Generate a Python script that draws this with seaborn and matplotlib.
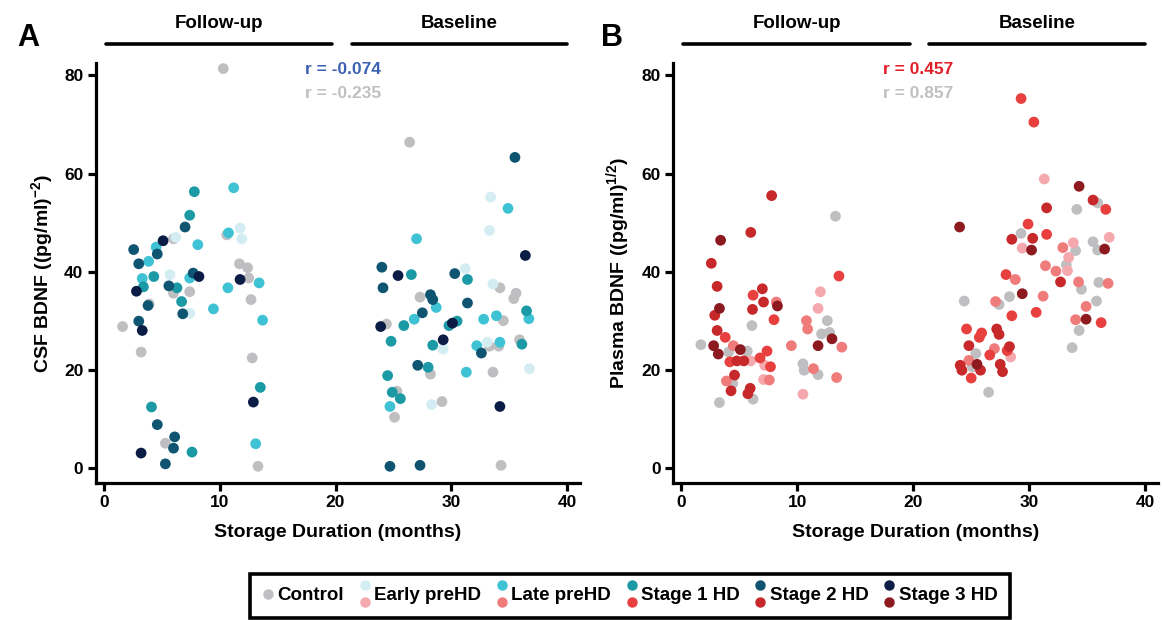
import matplotlib
matplotlib.use('Agg')
import pandas as pd
import matplotlib.pyplot as plt
import seaborn as sns
from matplotlib.legend_handler import HandlerBase
from matplotlib.lines import Line2D
from matplotlib.transforms import blended_transform_factory

groups = ['Control', 'Early preHD', 'Late preHD', 'Stage 1 HD', 'Stage 2 HD', 'Stage 3 HD']
blue_cols = ['#bfbfc1', '#d3edf3', '#3fc2d4', '#1b9aa5', '#0f5470', '#0b1c45']
red_cols = ['#bfbfc1', '#f5a8ad', '#ef7b7b', '#e8403f', '#c7282a', '#8c1a1f']

# ---- panel A: CSF BDNF (follow-up + baseline points) ----
csf_control_x = [10.3, 10.6, 6.0, 11.7, 12.4, 12.5, 6.0, 7.4, 12.7, 3.9, 1.6, 3.2, 12.8, 5.3, 13.3,
                 26.4, 34.2, 35.6, 35.4, 27.3, 34.5, 24.4, 34.1, 35.9, 28.2, 33.6, 25.3, 25.1, 29.2, 34.3, 33.3]
csf_control_y = [81.4, 47.5, 46.7, 41.6, 40.8, 38.7, 35.6, 35.9, 34.3, 33.4, 28.8, 23.6, 22.4, 5.0, 0.3,
                 66.4, 36.7, 35.6, 34.5, 34.8, 30.0, 29.3, 24.8, 26.1, 19.1, 19.5, 15.6, 10.3, 13.5, 0.5, 24.8]
csf_early_x = [11.75, 11.9, 6.2, 5.7, 7.4,
               33.4, 33.3, 31.2, 33.6, 29.3, 33.1, 36.75, 28.3]
csf_early_y = [48.9, 46.7, 47.0, 39.4, 31.5,
               55.2, 48.4, 40.6, 37.5, 24.2, 25.6, 20.2, 12.9]
csf_late_x = [11.2, 10.75, 8.1, 4.5, 3.85, 13.4, 7.4, 3.3, 10.7, 9.45, 13.7, 13.1,
              34.9, 27.0, 28.7, 26.8, 36.7, 32.8, 33.9, 32.2, 34.2, 31.3, 24.7]
csf_late_y = [57.1, 47.9, 45.5, 45.0, 42.1, 37.7, 38.7, 38.6, 36.7, 32.4, 30.1, 4.9,
              52.9, 46.7, 32.7, 30.3, 30.4, 30.3, 31.0, 24.9, 25.6, 19.5, 12.5]
csf_s1_x = [7.8, 7.4, 4.3, 3.4, 6.3, 6.7, 13.5, 4.1, 7.6,
            26.55, 31.4, 36.5, 25.9, 30.5, 29.8, 24.8, 28.4, 36.1, 28.0, 24.5, 24.9, 25.6]
csf_s1_y = [56.3, 51.5, 39.0, 36.9, 36.7, 33.9, 16.4, 12.4, 3.2,
            39.4, 38.4, 32.0, 29.0, 29.9, 29.0, 25.8, 25.0, 25.2, 20.5, 18.8, 15.4, 14.1]
csf_s2_x = [7.0, 2.56, 4.6, 3.0, 7.7, 5.6, 3.8, 6.8, 3.0, 4.6, 6.1, 6.0, 5.3,
            35.5, 24.0, 30.3, 24.1, 28.2, 28.4, 31.4, 27.5, 32.6, 27.1, 24.7, 27.3]
csf_s2_y = [49.1, 44.5, 43.6, 41.6, 39.7, 37.1, 33.1, 31.4, 29.9, 8.8, 6.3, 4.0, 0.8,
            63.3, 40.9, 39.6, 36.7, 35.3, 34.3, 33.6, 31.6, 23.4, 20.9, 0.3, 0.5]
csf_s3_x = [5.1, 11.75, 8.2, 2.8, 3.3, 12.9, 3.2,
            36.4, 25.4, 23.9, 30.1, 29.3, 34.2]
csf_s3_y = [46.3, 38.4, 39.0, 36.0, 28.0, 13.4, 3.0,
            43.3, 39.2, 28.8, 29.5, 26.1, 12.5]

# ---- panel B: plasma BDNF ----
pl_control_x = [13.3, 6.1, 12.6, 12.1, 12.8, 1.7, 4.1, 5.7, 10.5, 10.6, 11.8, 4.45, 3.3, 6.2,
                35.9, 34.1, 29.3, 34.0, 35.5, 35.9, 33.2, 34.5, 36.0, 24.4, 27.4, 28.3, 35.8, 34.3,
                33.7, 25.4, 25.1, 26.5]
pl_control_y = [51.3, 29.0, 30.0, 27.3, 27.6, 25.1, 23.6, 23.8, 21.2, 19.9, 19.0, 17.2, 13.3, 14.0,
                54.0, 52.7, 47.8, 44.3, 46.1, 44.4, 41.4, 36.4, 37.8, 34.0, 33.3, 34.9, 34.0, 28.0,
                24.5, 23.3, 20.6, 15.4]
pl_early_x = [12.0, 11.8, 6.0, 7.2, 7.1, 10.5,
              31.3, 29.4, 33.8, 36.9, 33.4, 33.3, 28.4]
pl_early_y = [35.9, 32.5, 21.8, 20.9, 18.0, 15.0,
              58.9, 44.8, 45.9, 47.0, 42.9, 40.2, 22.6]
pl_late_x = [8.2, 10.8, 10.9, 4.5, 9.5, 13.85, 11.4, 3.9, 7.6, 13.4,
             32.9, 31.4, 32.3, 28.8, 34.25, 36.8, 27.1, 31.2, 34.9, 34.0, 27.0, 24.8]
pl_late_y = [33.8, 30.0, 28.3, 24.9, 24.9, 24.6, 20.2, 17.7, 17.9, 18.4,
             44.9, 41.2, 40.1, 38.4, 37.9, 37.6, 33.9, 35.0, 32.9, 30.2, 24.3, 21.9]
pl_s1_x = [13.6, 6.2, 8.0, 3.8, 7.4, 6.8, 4.2, 7.7,
           29.3, 30.4, 36.6, 29.9, 31.5, 28.0, 28.5, 30.6, 36.2, 24.6, 25.9, 25.7, 28.1, 26.6, 25.0]
pl_s1_y = [39.1, 35.2, 30.2, 26.6, 23.8, 22.4, 21.6, 20.6,
           75.3, 70.5, 52.7, 49.7, 47.6, 39.4, 31.0, 31.7, 29.6, 28.3, 27.5, 26.6, 23.9, 23.0, 18.3]
pl_s2_x = [7.8, 6.0, 2.6, 3.1, 7.0, 7.1, 6.15, 2.9, 3.1, 4.8, 5.4, 4.6, 4.3, 5.95, 5.75,
           35.5, 31.5, 28.5, 30.3, 32.7, 27.2, 27.4, 24.8, 28.3, 24.05, 24.2, 25.8, 27.5, 27.7]
pl_s2_y = [55.5, 48.0, 41.7, 37.0, 36.5, 33.8, 32.3, 31.1, 28.0, 21.8, 21.8, 18.9, 15.7, 16.2, 15.1,
           54.6, 53.0, 46.6, 46.8, 37.9, 28.3, 27.2, 24.9, 24.7, 20.9, 19.9, 19.9, 21.1, 19.6]
pl_s3_x = [3.4, 8.3, 3.3, 2.8, 3.2, 5.1, 11.8, 13.0,
           34.3, 24.0, 30.2, 36.5, 29.4, 34.9, 25.5]
pl_s3_y = [46.4, 33.0, 32.5, 24.9, 23.2, 24.1, 24.9, 26.3,
           57.4, 49.1, 44.4, 44.6, 35.5, 30.3, 21.1]


def build(xs, ys):
    parts = []
    for g, x, y in zip(groups, xs, ys):
        parts.append(pd.DataFrame({'months': x, 'bdnf': y, 'group': g}))
    return pd.concat(parts, ignore_index=True)


csf = build([csf_control_x, csf_early_x, csf_late_x, csf_s1_x, csf_s2_x, csf_s3_x],
            [csf_control_y, csf_early_y, csf_late_y, csf_s1_y, csf_s2_y, csf_s3_y])
plasma = build([pl_control_x, pl_early_x, pl_late_x, pl_s1_x, pl_s2_x, pl_s3_x],
               [pl_control_y, pl_early_y, pl_late_y, pl_s1_y, pl_s2_y, pl_s3_y])

sns.set_style('ticks')
plt.rcParams['font.family'] = ['Liberation Sans', 'DejaVu Sans']
plt.rcParams['mathtext.fontset'] = 'custom'
plt.rcParams['mathtext.rm'] = 'Liberation Sans:bold'
plt.rcParams['mathtext.bf'] = 'Liberation Sans:bold'
for key in ['text.color', 'axes.labelcolor', 'xtick.color', 'ytick.color', 'axes.edgecolor']:
    plt.rcParams[key] = 'black'

fig = plt.figure(figsize=(11.63, 6.2), dpi=100)
axA = fig.add_axes([0.0825, 0.221, 0.416, 0.677])
axB = fig.add_axes([0.5787, 0.221, 0.417, 0.677])


def style(ax, ylabel, letter, lx, r1, c1, r2):
    ax.set_xlim(-0.7, 41.1)
    ax.set_ylim(-3.1, 82.5)
    ax.set_xticks([0, 10, 20, 30, 40])
    ax.set_yticks([0, 20, 40, 60, 80])
    for s in ['top', 'right']:
        ax.spines[s].set_visible(False)
    for s in ['left', 'bottom']:
        ax.spines[s].set_linewidth(2.3)
        ax.spines[s].set_color('black')
    ax.tick_params(width=2.3, length=6, labelsize=12.5, pad=3, colors='black')
    for lab in ax.get_xticklabels() + ax.get_yticklabels():
        lab.set_fontweight('bold')
    ax.set_xlabel('Storage Duration (months)', fontsize=14, fontweight='bold', labelpad=10)
    ax.set_ylabel(ylabel, fontsize=14, fontweight='bold', labelpad=6)
    tr = blended_transform_factory(ax.transData, ax.transAxes)
    for x0, x1, name in [(0.2, 19.7, 'Follow-up'), (21.4, 40.0, 'Baseline')]:
        ax.plot([x0, x1], [1.045, 1.045], color='black', lw=2.6, transform=tr, clip_on=False)
        ax.text((x0 + x1) / 2, 1.075, name, transform=tr, ha='center', va='bottom',
                fontsize=13.5, fontweight='bold')
    ax.text(17.4, 81.2, r1, color=c1, fontsize=12.5, fontweight='bold', va='center')
    ax.text(17.4, 76.3, r2, color='#c0c0c0', fontsize=12.5, fontweight='bold', va='center')
    ax.text(lx, 1.06, letter, transform=ax.transAxes, fontsize=22, fontweight='bold',
            ha='center', va='center')


sns.scatterplot(data=csf, x='months', y='bdnf', hue='group', hue_order=groups,
                palette=dict(zip(groups, blue_cols)), s=60, linewidth=0, legend=False, ax=axA)
sns.scatterplot(data=plasma, x='months', y='bdnf', hue='group', hue_order=groups,
                palette=dict(zip(groups, red_cols)), s=60, linewidth=0, legend=False, ax=axB)

style(axA, r'CSF BDNF ((pg/ml)$^{-2}$)', 'A', -0.14, 'r = -0.074', '#3d62b3', 'r = -0.235')
style(axB, r'Plasma BDNF ((pg/ml)$^{1/2}$)', 'B', -0.126, 'r = 0.457', '#e21f26', 'r = 0.857')


class Pair:
    def __init__(self, colors):
        self.colors = colors


class StackHandler(HandlerBase):
    def create_artists(self, legend, orig_handle, xdescent, ydescent, width, height, fontsize, trans):
        cols = orig_handle.colors
        ys = [height / 2] if len(cols) == 1 else [height * 1.15, height * -0.15]
        arts = []
        for c, y in zip(cols, ys):
            arts.append(Line2D([width / 2 - xdescent], [y - ydescent], marker='o', ms=6.5,
                               color=c, linestyle='none', transform=trans))
        return arts


handles = [Pair([blue_cols[0]])] + [Pair([b, r]) for b, r in zip(blue_cols[1:], red_cols[1:])]
leg = fig.legend(handles, groups, handler_map={Pair: StackHandler()}, ncol=6,
                 loc='lower center', bbox_to_anchor=(0.5417, 0.004),
                 prop={'size': 13.5, 'weight': 'bold'},
                 frameon=True, fancybox=False, framealpha=1, handlelength=0.6, handletextpad=0.2,
                 columnspacing=0.8, borderpad=0.7, borderaxespad=0)
leg.get_frame().set_edgecolor('black')
leg.get_frame().set_linewidth(2.6)

fig.savefig('out.png', dpi=100)
